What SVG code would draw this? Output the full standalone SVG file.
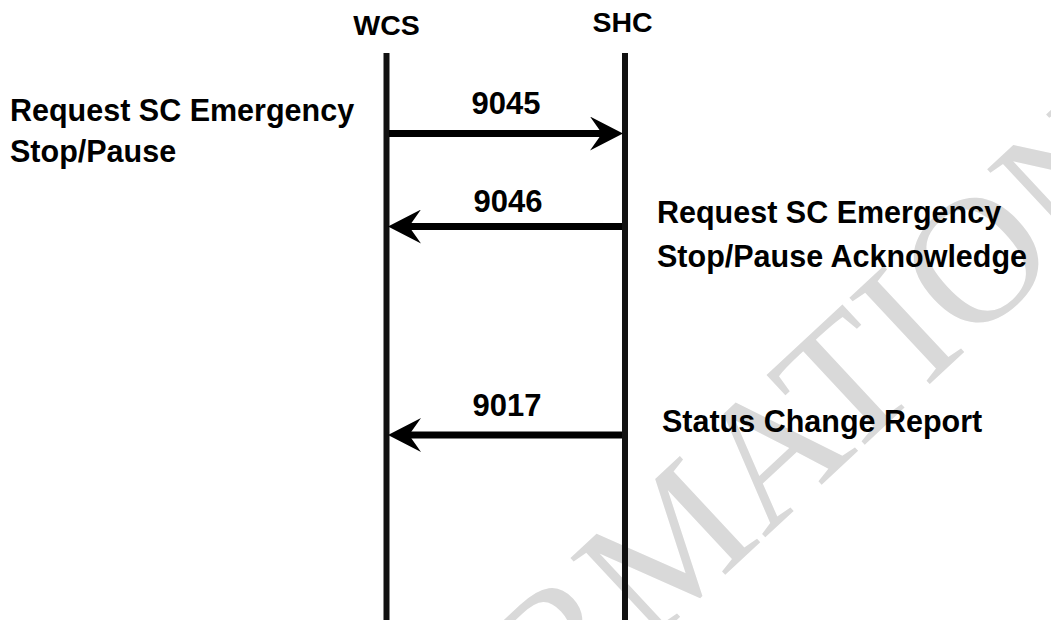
<svg xmlns="http://www.w3.org/2000/svg" width="1051" height="620" viewBox="0 0 1051 620">
  <style>
    .lbl { font-family: "Liberation Sans", Arial, sans-serif; font-weight: bold; fill: #000; }
    .hdr { font-size: 28.5px; text-anchor: middle; }
    .num { font-size: 31px; text-anchor: middle; }
    .txt { font-size: 30.5px; }
    .life { stroke: #111; stroke-width: 6; fill: none; }
    .msg { stroke: #000; stroke-width: 7; fill: none; }
    .wm { font-family: "Liberation Serif", "Times New Roman", serif; font-size: 180px; fill: #d9d9d9; }
  </style>
  <defs>
    <marker id="ah" markerUnits="userSpaceOnUse" markerWidth="34" markerHeight="34" viewBox="0 0 34 34" refX="12" refY="17" orient="auto">
      <path d="M0,0 L33,17 L0,34 L12,17 Z" fill="#000"/>
    </marker>
  </defs>
  <rect width="1051" height="620" fill="#fff"/>
  <g id="watermark">
    <text class="wm" x="252" y="1016" transform="rotate(-43 252 1016)">INFORMATION</text>
  </g>
  <g id="wcs">
    <line class="life" x1="386.5" y1="53" x2="386.5" y2="620"/>
    <text class="lbl hdr" x="386.5" y="35">WCS</text>
  </g>
  <g id="shc">
    <line class="life" x1="625" y1="53" x2="625" y2="620"/>
    <text class="lbl hdr" x="622.5" y="32">SHC</text>
  </g>
  <g id="connectors">
    <line class="msg" x1="389" y1="133.5" x2="602" y2="133.5" marker-end="url(#ah)"/>
    <line class="msg" x1="622" y1="226.5" x2="409" y2="226.5" marker-end="url(#ah)"/>
    <line class="msg" x1="622" y1="435" x2="409" y2="435" marker-end="url(#ah)"/>
  </g>
  <g id="msg-labels">
    <text class="lbl num" x="506" y="114">9045</text>
    <text class="lbl num" x="508" y="212">9046</text>
    <text class="lbl num" x="507" y="416">9017</text>
  </g>
  <g id="desc-left">
    <text class="lbl txt" x="10" y="121">Request SC Emergency</text>
    <text class="lbl txt" x="10" y="162">Stop/Pause</text>
  </g>
  <g id="desc-right">
    <text class="lbl txt" x="657" y="223">Request SC Emergency</text>
    <text class="lbl txt" x="657" y="267">Stop/Pause Acknowledge</text>
    <text class="lbl txt" x="662" y="432">Status Change Report</text>
  </g>
</svg>
